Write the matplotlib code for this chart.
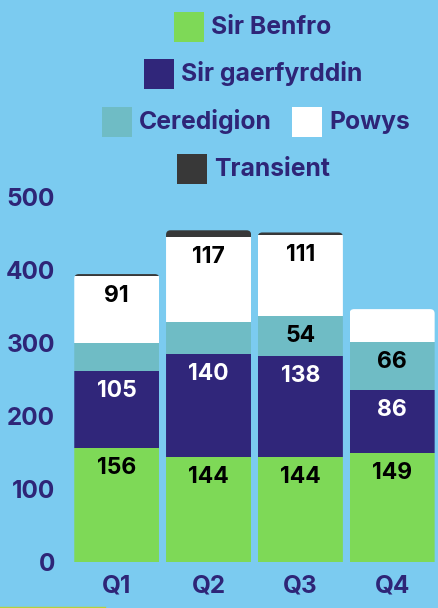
import matplotlib
matplotlib.use("Agg")
import matplotlib.pyplot as plt
from matplotlib.patches import FancyBboxPatch, Rectangle
import numpy as np

quarters = ["Q1", "Q2", "Q3", "Q4"]
series_names = ["Sir Benfro", "Sir gaerfyrddin", "Ceredigion", "Powys", "Transient"]
sir_benfro = [156, 144, 144, 149]
sir_gaerfyrddin = [105, 140, 138, 86]
ceredigion = [39, 44, 54, 66]
powys = [91, 117, 111, 45]
transient = [3, 9, 4, 0]
# which values are printed on the bars
labels_shown = {
    "Sir Benfro": [True, True, True, True],
    "Sir gaerfyrddin": [True, True, True, True],
    "Ceredigion": [False, False, True, True],
    "Powys": [True, True, True, False],
    "Transient": [False, False, False, False],
}
yticks = [0, 100, 200, 300, 400, 500]

BG = "#7BCBF0"
TXT = "#2E2577"
colors = ["#7ED957", "#30267A", "#6FBCC5", "#FFFFFF", "#383838"]
label_colors = ["black", "white", "black", "black", "white"]

W, H = 438, 608
fig = plt.figure(figsize=(W / 100, H / 100), dpi=100)
fig.patch.set_facecolor(BG)
FONT = ["Inter", "DejaVu Sans"]

ax_left, ax_right, ax_bottom, ax_top = 70, 438, 561.7, 196.7
ax = fig.add_axes([ax_left / W, (H - ax_bottom) / H, (ax_right - ax_left) / W, (ax_bottom - ax_top) / H])
ax.set_facecolor(BG)
ax.set_xlim(-0.51, 3.5)
ax.set_ylim(0, 500)
for s in ax.spines.values():
    s.set_visible(False)

data = [sir_benfro, sir_gaerfyrddin, ceredigion, powys, transient]
x = np.arange(len(quarters))
width = 0.927
totals = np.sum(data, axis=0)

# clip shapes with rounded tops
px_per_x = (ax_right - ax_left) / (3.5 + 0.51)
px_per_y = (ax_bottom - ax_top) / 500
aspect = px_per_x / px_per_y
clips = []
for i in range(len(quarters)):
    cp = FancyBboxPatch((x[i] - width / 2, -50), width, totals[i] + 50,
                        boxstyle="round,pad=0,rounding_size=%f" % (4.5 / px_per_x),
                        mutation_aspect=aspect, transform=ax.transData,
                        facecolor="none", edgecolor="none")
    clips.append(cp)

bottom = np.zeros(len(quarters))
for si, vals in enumerate(data):
    bars = ax.bar(x, vals, width, bottom=bottom, color=colors[si], linewidth=0, zorder=2)
    for i, b in enumerate(bars):
        b.set_clip_path(clips[i])
        if labels_shown[series_names[si]][i]:
            ax.annotate(str(vals[i]), (x[i], bottom[i] + vals[i]), xytext=(0, -6.5),
                        textcoords="offset points", ha="center", va="top",
                        fontsize=16.5, fontweight="bold", color=label_colors[si],
                        family=FONT, zorder=3)
    bottom = bottom + np.array(vals)

ax.set_xticks(x)
ax.set_xticklabels(quarters)
ax.set_yticks(yticks)
ax.set_yticklabels([str(v) for v in yticks])
ax.tick_params(axis="both", length=0, colors=TXT)
ax.tick_params(axis="y", pad=10.8)
ax.tick_params(axis="x", pad=9.0)
for lab in ax.get_xticklabels() + ax.get_yticklabels():
    lab.set_fontsize(17.5)
    lab.set_fontweight("bold")
    lab.set_family(FONT)
    lab.set_color(TXT)

# legend (flow layout, centred rows)
legend_items = [
    (0, 174, 27), (1, 144, 74), (2, 102, 122), (3, 292, 122), (4, 177, 169)
]
for si, sx, cy in legend_items:
    fig.add_artist(Rectangle((sx / W, (H - cy - 15) / H), 30 / W, 30 / H,
                             transform=fig.transFigure, facecolor=colors[si],
                             edgecolor="none"))
    fig.text((sx + 37) / W, (H - cy) / H, series_names[si], ha="left", va="center",
             fontsize=17.8, fontweight="bold", color=TXT, family=FONT)

# thin line at bottom-left
fig.add_artist(plt.Line2D([0, 105 / W], [1.3 / H, 1.3 / H], transform=fig.transFigure,
                          color="#B5D13A", linewidth=1))

fig.savefig("out.png", dpi=100, facecolor=BG)
